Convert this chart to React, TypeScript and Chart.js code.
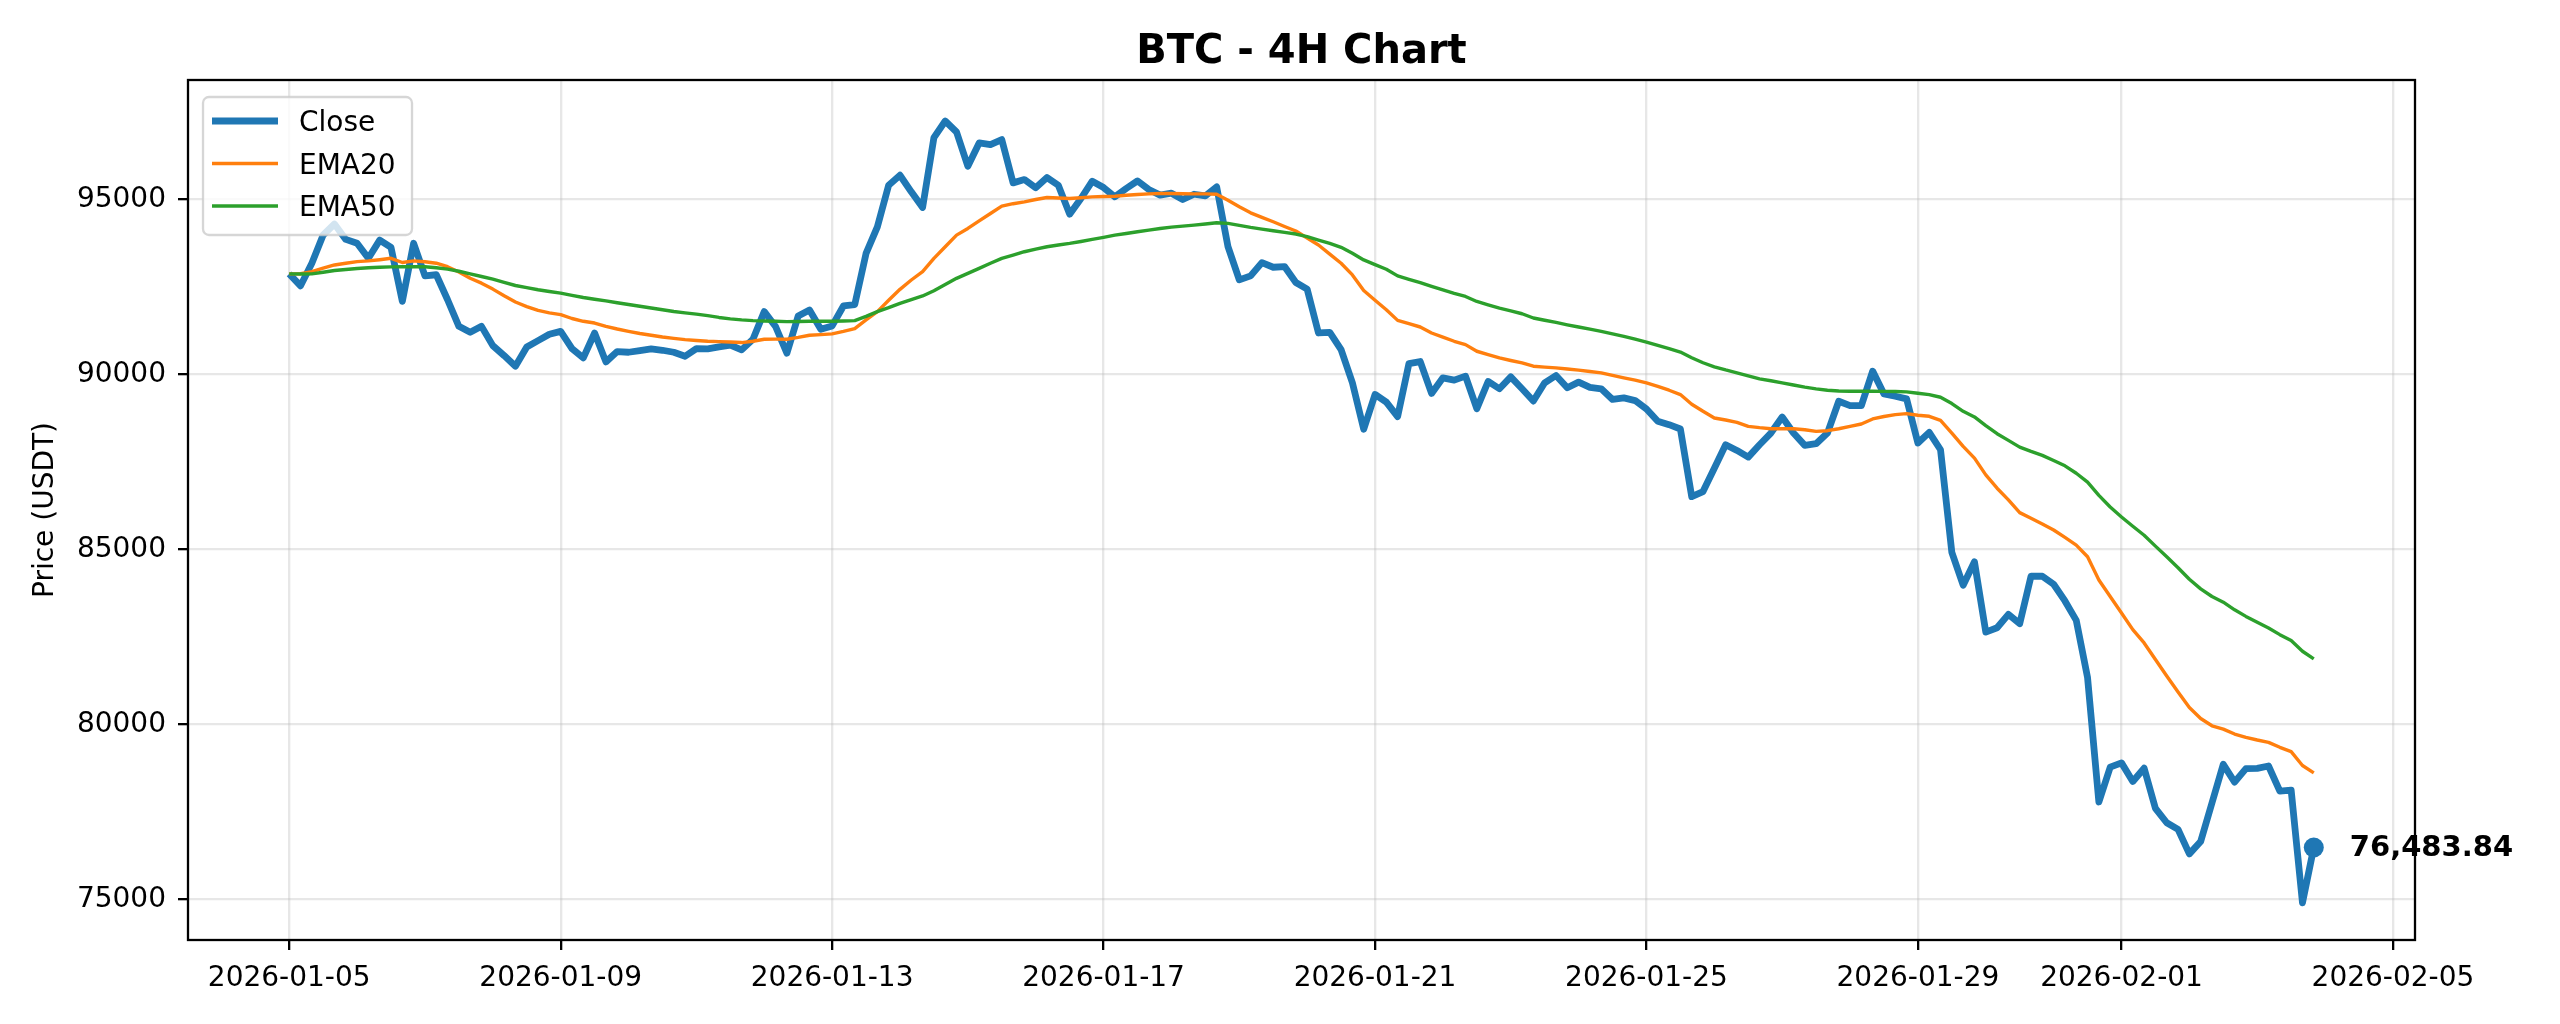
import React, { useEffect, useRef } from 'react'
import { Chart, registerables } from 'chart.js'

Chart.register(...registerables)

// 4h bars, first bar at 2026-01-05 00:00 UTC
const startTime = '2026-01-05T00:00:00Z'
const barHours = 4

const close = [
  92875, 92533, 93178, 93985, 94300, 93860, 93750, 93320, 93840, 93630,
  92090, 93750, 92820, 92850, 92135, 91375, 91205, 91375, 90825, 90540,
  90237, 90787, 90968, 91150, 91233, 90740, 90475, 91185, 90360, 90655,
  90635, 90683, 90730, 90692, 90635, 90522, 90740, 90730, 90787, 90840,
  90703, 91007, 91796, 91370, 90608, 91673, 91844, 91293, 91388, 91958,
  91996, 93460, 94220, 95409, 95694, 95219, 94772, 96768, 97243, 96930,
  95950, 96616, 96568, 96711, 95475, 95570, 95333, 95627, 95409, 94582,
  95029, 95523, 95342, 95076, 95314, 95532, 95285, 95124, 95180, 95000,
  95150, 95104, 95360, 93653, 92704, 92818, 93197, 93064, 93083, 92628,
  92438, 91186, 91205, 90711, 89763, 88434, 89430, 89212, 88795, 90313,
  90370, 89459, 89905, 89839, 89953, 89023, 89800, 89592, 89933, 89592,
  89241, 89763, 89971, 89620, 89782, 89630, 89592, 89288, 89331, 89254,
  89015, 88662, 88566, 88442, 86511, 86654, 87323, 87992, 87830, 87639,
  87992, 88327, 88786, 88327, 87973, 88021, 88327, 89235, 89111, 89111,
  90096, 89445, 89379, 89302, 88040, 88346, 87849, 84914, 83977, 84646,
  82639, 82763, 83145, 82878, 84235, 84235, 84006, 83528, 82973, 81335,
  77784, 78778, 78901, 78371, 78750, 77600, 77190, 77000, 76302, 76657,
  77758, 78860, 78352, 78736, 78745, 78812, 78094, 78122, 74904, 76483.84,
]

const ema20 = [
  92875, 92880, 92940, 93040, 93130, 93180, 93225, 93245, 93280, 93320,
  93200, 93245, 93220, 93180, 93080, 92930, 92750, 92610, 92440, 92250,
  92070, 91940, 91830, 91760, 91710, 91600, 91520, 91470, 91375, 91300,
  91233, 91170, 91120, 91070, 91030, 90996, 90970, 90950, 90940, 90930,
  90912, 90950, 91007, 91010, 91007, 91060, 91122, 91140, 91160, 91230,
  91312, 91560, 91796, 92120, 92433, 92700, 92937, 93317, 93650, 93983,
  94173, 94390, 94600, 94810, 94880, 94933, 95000, 95057, 95045, 95029,
  95050, 95076, 95085, 95095, 95120, 95143, 95160, 95171, 95170, 95165,
  95160, 95160, 95152, 94980, 94791, 94620, 94490, 94364, 94230, 94099,
  93900, 93700, 93440, 93178, 92846, 92400, 92120, 91850, 91546, 91450,
  91357, 91186, 91070, 90949, 90854, 90664, 90570, 90474, 90400, 90332,
  90237, 90210, 90190, 90155, 90123, 90085, 90047, 89975, 89905, 89840,
  89761, 89660, 89550, 89426, 89150, 88948, 88757, 88700, 88633, 88518,
  88480, 88451, 88451, 88451, 88420, 88375, 88394, 88450, 88518, 88585,
  88729, 88800, 88853, 88881, 88834, 88805, 88690, 88327, 87945, 87610,
  87132, 86750, 86415, 86052, 85889, 85727, 85555, 85344, 85123, 84792,
  84129, 83655, 83182, 82708, 82329, 81856, 81382, 80928, 80483, 80170,
  79962, 79867, 79725, 79630, 79555, 79488, 79346, 79223, 78826, 78617,
]

const ema50 = [
  92875, 92870, 92875, 92920, 92970, 93000, 93030, 93050, 93065, 93075,
  93080, 93080, 93080, 93050, 93010, 92950, 92875, 92800, 92723, 92630,
  92543, 92480, 92420, 92370, 92325, 92260, 92200, 92150, 92105, 92050,
  92000, 91950, 91900, 91850, 91800, 91760, 91725, 91680, 91630, 91590,
  91560, 91540, 91530, 91520, 91511, 91515, 91520, 91520, 91521, 91530,
  91540, 91660, 91796, 91910, 92034, 92140, 92243, 92395, 92570, 92747,
  92890, 93032, 93180, 93317, 93410, 93508, 93580, 93650, 93700, 93745,
  93800, 93860, 93920, 93983, 94030, 94078, 94125, 94173, 94210, 94240,
  94269, 94300, 94336, 94317, 94260, 94203, 94155, 94108, 94060, 94013,
  93937, 93840, 93748, 93634, 93463, 93273, 93140, 93008, 92818, 92720,
  92628, 92520, 92419, 92320, 92230, 92087, 91990, 91897, 91815, 91736,
  91613, 91550, 91489, 91420, 91357, 91295, 91233, 91160, 91091, 91010,
  90927, 90830, 90740, 90641, 90480, 90335, 90220, 90130, 90048, 89960,
  89876, 89820, 89761, 89700, 89637, 89590, 89551, 89530, 89522, 89520,
  89522, 89517, 89512, 89503, 89465, 89426, 89350, 89168, 88948, 88786,
  88537, 88308, 88117, 87925, 87801, 87687, 87543, 87390, 87178, 86922,
  86544, 86212, 85928, 85663, 85407, 85095, 84792, 84479, 84148, 83873,
  83655, 83494, 83276, 83087, 82917, 82756, 82566, 82396, 82092, 81875,
]

const xTickLabels = [
  '2026-01-05', '2026-01-09', '2026-01-13', '2026-01-17', '2026-01-21',
  '2026-01-25', '2026-01-29', '2026-02-01', '2026-02-05',
]
const yTickValues = [75000, 80000, 85000, 90000, 95000]

const FONT = '"DejaVu Sans", sans-serif'
const BLUE = '#1f77b4'
const ORANGE = '#ff7f0e'
const GREEN = '#2ca02c'

const toBar = (d: string) =>
  (Date.parse(d + 'T00:00:00Z') - Date.parse(startTime)) / (barHours * 3600000)
const xTickPos = xTickLabels.map(toBar)

const decorPlugin = {
  id: 'decor',
  afterDraw(chart: any) {
    const { ctx, chartArea: a, scales } = chart
    ctx.save()

    // frame (all four spines)
    ctx.strokeStyle = '#000'
    ctx.lineWidth = 2.3
    ctx.strokeRect(a.left, a.top, a.right - a.left, a.bottom - a.top)

    // title
    ctx.fillStyle = '#000'
    ctx.font = `bold 40px ${FONT}`
    ctx.textAlign = 'center'
    ctx.textBaseline = 'middle'
    ctx.fillText('BTC - 4H Chart', (a.left + a.right) / 2, 53)

    // last price label
    const lastIdx = close.length - 1
    const last = close[lastIdx]
    const px = scales.x.getPixelForValue(lastIdx)
    const py = scales.y.getPixelForValue(last)
    ctx.font = `bold 29px ${FONT}`
    ctx.textAlign = 'left'
    ctx.fillText(
      last.toLocaleString('en-US', { minimumFractionDigits: 2, maximumFractionDigits: 2 }),
      px + 36,
      py + 1
    )

    // legend box
    const bx = a.left + 15
    const by = a.top + 17
    ctx.beginPath()
    ctx.roundRect(bx, by, 209, 138, 6)
    ctx.fillStyle = 'rgba(255,255,255,0.8)'
    ctx.fill()
    ctx.strokeStyle = 'rgba(204,204,204,0.8)'
    ctx.lineWidth = 2.3
    ctx.stroke()

    const rows = chart.data.datasets.slice(0, 3)
    rows.forEach((ds: any, i: number) => {
      const y = by + 24 + i * 42.5
      ctx.beginPath()
      ctx.moveTo(bx + 9, y)
      ctx.lineTo(bx + 75, y)
      ctx.strokeStyle = ds.borderColor
      ctx.lineWidth = ds.borderWidth
      ctx.lineCap = 'butt'
      ctx.stroke()
      ctx.fillStyle = '#000'
      ctx.font = `28px ${FONT}`
      ctx.textAlign = 'left'
      ctx.textBaseline = 'middle'
      ctx.fillText(ds.label, bx + 96, y + 3)
    })

    ctx.restore()
  },
}

const BtcChart = () => {
  const chartRef = useRef<HTMLCanvasElement>(null)

  useEffect(() => {
    if (!chartRef.current) return
    const ctx = chartRef.current.getContext('2d')
    if (!ctx) return

    const lastIdx = close.length - 1
    const xPad = 0.05 * lastIdx

    const chart = new Chart(ctx, {
      type: 'line',
      data: {
        datasets: [
          {
            label: 'Close',
            data: close.map((y, i) => ({ x: i, y })),
            borderColor: BLUE,
            borderWidth: 6.8,
            pointRadius: 0,
            borderJoinStyle: 'round',
            order: 3,
          },
          {
            label: 'EMA20',
            data: ema20.map((y, i) => ({ x: i, y })),
            borderColor: ORANGE,
            borderWidth: 3.4,
            pointRadius: 0,
            borderJoinStyle: 'round',
            order: 2,
          },
          {
            label: 'EMA50',
            data: ema50.map((y, i) => ({ x: i, y })),
            borderColor: GREEN,
            borderWidth: 3.4,
            pointRadius: 0,
            borderJoinStyle: 'round',
            order: 1,
          },
          {
            label: 'Last',
            data: [{ x: lastIdx, y: close[lastIdx] }],
            showLine: false,
            pointRadius: 10,
            pointBackgroundColor: BLUE,
            pointBorderWidth: 0,
            order: 0,
          },
        ],
      } as any,
      plugins: [decorPlugin],
      options: {
        responsive: false,
        devicePixelRatio: 1,
        animation: false,
        events: [],
        layout: { padding: { top: 80, right: 145, bottom: 0, left: 0 } },
        plugins: {
          legend: { display: false },
          title: { display: false },
          tooltip: { enabled: false },
        },
        scales: {
          x: {
            type: 'linear',
            min: -xPad,
            max: lastIdx + xPad,
            afterBuildTicks: (scale: any) => {
              scale.ticks = xTickPos.map((v) => ({ value: v }))
            },
            afterFit: (scale: any) => {
              scale.height = 84
            },
            grid: {
              color: 'rgba(176,176,176,0.3)',
              lineWidth: 2.3,
              tickColor: '#000',
              tickWidth: 2.3,
              tickLength: 10,
            },
            border: { display: false },
            ticks: {
              autoSkip: false,
              maxRotation: 0,
              minRotation: 0,
              padding: 12,
              color: '#000',
              font: { family: FONT, size: 28 },
              callback: (_v: any, i: number) => xTickLabels[i],
            },
          },
          y: {
            type: 'linear',
            min: 73840,
            max: 98415,
            afterBuildTicks: (scale: any) => {
              scale.ticks = yTickValues.map((v) => ({ value: v }))
            },
            afterFit: (scale: any) => {
              scale.width = 188
            },
            grid: {
              color: 'rgba(176,176,176,0.3)',
              lineWidth: 2.3,
              tickColor: '#000',
              tickWidth: 2.3,
              tickLength: 10,
            },
            border: { display: false },
            ticks: {
              padding: 12,
              color: '#000',
              font: { family: FONT, size: 28 },
              callback: (v: any) => String(v),
            },
            title: {
              display: true,
              text: 'Price (USDT)',
              color: '#000',
              font: { family: FONT, size: 28 },
              padding: { top: 29, bottom: 0 },
            },
          },
        },
      } as any,
    })

    return () => {
      chart.destroy()
    }
  }, [])

  return (
    <div
      style={{
        position: 'absolute',
        left: 0,
        top: 0,
        width: 2560,
        height: 1024,
        background: '#fff',
      }}
    >
      <canvas ref={chartRef} width={2560} height={1024}></canvas>
    </div>
  )
}

export default function App() {
  return <BtcChart />
}
